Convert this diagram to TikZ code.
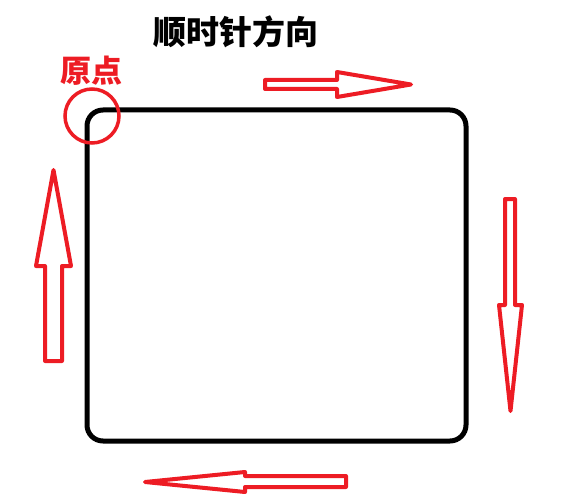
\documentclass[tikz,border=0pt]{standalone}
\usepackage{fontspec}
\newfontfamily\cjk{Noto Sans CJK SC}
\usepackage{xcolor}
\usepackage{tikz}
\definecolor{paintred}{RGB}{237,28,36}
\tikzset{
  blockarrow/.style={draw=paintred,line width=4pt,line join=round,fill=white},
  frame/.style={draw,line width=5pt,rounded corners=16pt,minimum width=379pt,minimum height=331pt},
}

\begin{document}
\begin{tikzpicture}[x=1pt,y=-1pt]
\useasboundingbox (0,0) rectangle (574,503);

\node (title) at (236,32) {\cjk\bfseries\fontsize{33}{33}\selectfont 顺时针方向};
\node[color=paintred] (label) at (91.5,71) {\cjk\bfseries\fontsize{31}{31}\selectfont 原点};

\node[frame] (box) at (276.5,275.5) {};
\node[draw=paintred,line width=3.5pt,circle,minimum size=54pt,inner sep=0pt] (origin) at (92,116) {};

% top, going right
\draw [blockarrow] (265,80) -- (337,80) -- (337,72) -- (411,84.5) -- (337,97) -- (337,89) -- (265,89) -- cycle;
% right side, going down
\draw [blockarrow] (505,199) -- (515,199) -- (515,305) -- (522,305) -- (510.5,411) -- (499,305) -- (505,305) -- cycle;
% bottom, going left
\draw [blockarrow] (346,476) -- (245,476) -- (245,472) -- (145,482) -- (245,492) -- (245,487) -- (346,487) -- cycle;
% left side, going up
\draw [blockarrow] (45,361) -- (45,266) -- (36,266) -- (53.5,170) -- (71,266) -- (62,266) -- (62,361) -- cycle;
\end{tikzpicture}
\end{document}
